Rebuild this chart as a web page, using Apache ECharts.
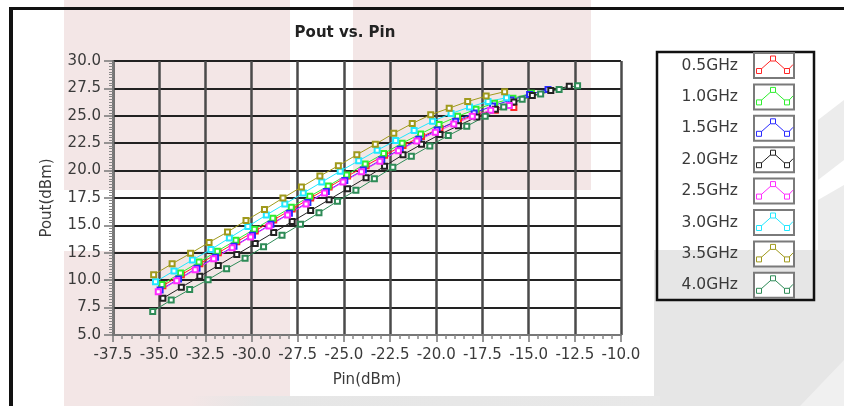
<!DOCTYPE html>
<html><head><meta charset="utf-8">
<script src="https://cdn.jsdelivr.net/npm/echarts@6/dist/echarts.min.js"></script>
<style>html,body{margin:0;padding:0;background:#fff}#c{width:844px;height:406px}</style>
</head><body><div id="c"></div>
<script>
const seriesNames = ['0.5GHz','1.0GHz','1.5GHz','2.0GHz','2.5GHz','3.0GHz','3.5GHz','4.0GHz'];
const seriesColors = ['#ff2626','#2fee2f','#2a2aff','#222222','#ff2cff','#22e8ff','#a09a1c','#2e8b57'];
const xTicks = [-37.5,-35,-32.5,-30,-27.5,-25,-22.5,-20,-17.5,-15,-12.5,-10];

const pin05 = [-34.8,-33.8,-32.8,-31.8,-30.8,-29.8,-28.8,-27.8,-26.8,-25.8,-24.8,-23.8,-22.8,-21.8,-20.8,-19.8,-18.8,-17.8,-16.8,-15.8];
const pout05 = [9.5,10.5,11.5,12.5,13.5,14.5,15.5,16.5,17.5,18.5,19.5,20.45,21.4,22.3,23.1,23.85,24.55,25.15,25.5,25.75];

const pin10 = [-34.85,-33.85,-32.85,-31.85,-30.85,-29.85,-28.85,-27.85,-26.85,-25.85,-24.85,-23.85,-22.85,-21.85,-20.85,-19.85,-18.85,-17.85,-16.85,-15.85,-14.85];
const pout10 = [9.6,10.65,11.65,12.65,13.65,14.65,15.65,16.65,17.65,18.6,19.6,20.6,21.55,22.5,23.35,24.2,24.95,25.6,26.15,26.6,27.05];

const pin15 = [-34.95,-33.95,-32.95,-31.95,-30.95,-29.95,-28.95,-27.95,-26.95,-25.95,-24.95,-23.95,-22.95,-21.95,-20.95,-19.95,-18.95,-17.95,-16.95,-15.95,-14.95,-13.95];
const pout15 = [9.1,10.1,11.1,12.1,13.1,14.1,15.1,16.1,17.1,18.1,19.1,20.05,21.0,21.95,22.85,23.7,24.5,25.25,25.9,26.45,26.95,27.4];

const pin20 = [-34.8,-33.8,-32.8,-31.8,-30.8,-29.8,-28.8,-27.8,-26.8,-25.8,-24.8,-23.8,-22.8,-21.8,-20.8,-19.8,-18.8,-17.8,-16.8,-15.8,-14.8,-13.8,-12.8];
const pout20 = [8.35,9.35,10.35,11.35,12.35,13.35,14.35,15.35,16.35,17.35,18.35,19.35,20.4,21.45,22.4,23.3,24.1,24.9,25.6,26.25,26.85,27.3,27.7];

const pin25 = [-35.05,-34.05,-33.05,-32.05,-31.05,-30.05,-29.05,-28.05,-27.05,-26.05,-25.05,-24.05,-23.05,-22.05,-21.05,-20.05,-19.05,-18.05,-17.05,-16.05];
const pout25 = [8.95,9.95,10.95,11.95,12.95,13.95,14.95,15.95,16.95,17.95,18.95,19.9,20.85,21.8,22.7,23.5,24.25,24.95,25.5,25.95];

const pin30 = [-35.2,-34.2,-33.2,-32.2,-31.2,-30.2,-29.2,-28.2,-27.2,-26.2,-25.2,-24.2,-23.2,-22.2,-21.2,-20.2,-19.2,-18.2,-17.2,-16.2];
const pout30 = [9.85,10.85,11.85,12.8,13.85,14.9,15.95,16.95,17.95,18.95,19.95,20.9,21.85,22.75,23.65,24.5,25.2,25.8,26.3,26.65];

const pin35 = [-35.3,-34.3,-33.3,-32.3,-31.3,-30.3,-29.3,-28.3,-27.3,-26.3,-25.3,-24.3,-23.3,-22.3,-21.3,-20.3,-19.3,-18.3,-17.3,-16.3];
const pout35 = [10.5,11.5,12.45,13.45,14.4,15.45,16.45,17.5,18.5,19.5,20.45,21.45,22.4,23.4,24.3,25.1,25.7,26.3,26.8,27.2];

const pin40 = [-35.35,-34.35,-33.35,-32.35,-31.35,-30.35,-29.35,-28.35,-27.35,-26.35,-25.35,-24.35,-23.35,-22.35,-21.35,-20.35,-19.35,-18.35,-17.35,-16.35,-15.35,-14.35,-13.35,-12.35];
const pout40 = [7.15,8.2,9.15,10.05,11.05,12.0,13.05,14.1,15.1,16.15,17.2,18.2,19.25,20.3,21.3,22.25,23.2,24.05,24.95,25.8,26.5,27.0,27.4,27.75];

const pins = [pin05,pin10,pin15,pin20,pin25,pin30,pin35,pin40];
const pouts = [pout05,pout10,pout15,pout20,pout25,pout30,pout35,pout40];

const FONT = 'DejaVu Sans';
const chart = echarts.init(document.getElementById('c'), null, {renderer:'canvas'});

const graphics = [];
// background decorations
const bg = (x,y,w,h,fill)=>graphics.push({type:'rect', z:-100, silent:true, shape:{x,y,width:w,height:h}, style:{fill}});
bg(64,0,226,190,'#f3e6e6');
bg(64,251,226,155,'#f3e6e6');
bg(353,0,238,190,'#f3e6e6');
bg(654,250,190,156,'#e6e6e6');
graphics.push({type:'rect', z:-100, silent:true, shape:{x:190,y:396,width:470,height:10},
  style:{fill:new echarts.graphic.LinearGradient(0,0,1,0,[{offset:0,color:'rgba(228,228,228,0)'},{offset:0.15,color:'#e6e6e6'},{offset:1,color:'#e8e8e8'}])}});
graphics.push({type:'polygon', z:-100, silent:true, shape:{points:[[818,120],[844,100],[844,160],[818,180]]}, style:{fill:'#ececec'}});
graphics.push({type:'polygon', z:-100, silent:true, shape:{points:[[818,200],[844,185],[844,250],[818,250]]}, style:{fill:'#ececec'}});
graphics.push({type:'polygon', z:-99, silent:true, shape:{points:[[800,406],[844,360],[844,406]]}, style:{fill:'#f0f0f0'}});
// frame
graphics.push({type:'rect', z:50, silent:true, shape:{x:9,y:7,width:835,height:3}, style:{fill:'#111'}});
graphics.push({type:'rect', z:50, silent:true, shape:{x:9,y:7,width:4,height:399}, style:{fill:'#111'}});
// legend box
graphics.push({type:'rect', z:50, silent:true, shape:{x:657,y:52,width:157,height:248}, style:{fill:null, stroke:'#111', lineWidth:2.5}});
seriesNames.forEach((name,i)=>{
  const cy = 65.5 + 31.4*i;
  const col = seriesColors[i];
  graphics.push({type:'text', z:50, silent:true, x:738, y:cy, style:{text:name, align:'right', verticalAlign:'middle', fontSize:15.5, fontFamily:FONT, fill:'#3a3a3a'}});
  graphics.push({type:'rect', z:50, silent:true, shape:{x:754,y:cy-12.5,width:40,height:25}, style:{fill:'#fff', stroke:'#7a7a7a', lineWidth:2}});
  const pts = [[759,cy+5.5],[773,cy-7],[787,cy+5.5],[793,cy-1]];
  graphics.push({type:'polyline', z:51, silent:true, shape:{points:pts}, style:{stroke:col, lineWidth:1, fill:null}});
  pts.slice(0,3).forEach(p=>graphics.push({type:'rect', z:52, silent:true, shape:{x:p[0]-2.5,y:p[1]-2.5,width:5,height:5}, style:{fill:'#fff', stroke:col, lineWidth:1}}));
});

const option = {
  animation:false,
  backgroundColor:'#fff',
  title:{text:'Pout vs. Pin', left:345, top:26, textAlign:'center', padding:0,
    textStyle:{fontSize:15, fontWeight:'bold', fontFamily:FONT, color:'#222'}},
  grid:{left:113, right:223, top:61, bottom:71, containLabel:false, outerBoundsMode:'none'},
  xAxis:{type:'value', min:-37.5, max:-10, interval:2.5,
    name:'Pin(dBm)', nameLocation:'middle', nameGap:38,
    nameTextStyle:{fontSize:15, fontFamily:FONT, color:'#3a3a3a'},
    axisLine:{show:true, lineStyle:{color:'#777', width:2}},
    axisTick:{show:true, length:7, lineStyle:{color:'#777', width:1.5}},
    minorTick:{show:true, splitNumber:5, length:4, lineStyle:{color:'#888', width:1.5}},
    axisLabel:{fontSize:15, fontFamily:FONT, color:'#3a3a3a', margin:13,
      formatter:v=>{const t = xTicks.find(k=>Math.abs(k-v)<1e-6); return (t===undefined?v:t).toFixed(1);}},
    splitLine:{show:true, lineStyle:{color:'#4a4a4a', width:2.5}}
  },
  yAxis:{type:'value', min:5, max:30, interval:2.5,
    name:'Pout(dBm)', nameLocation:'middle', nameGap:58,
    nameTextStyle:{fontSize:15, fontFamily:FONT, color:'#3a3a3a'},
    axisLine:{show:true, lineStyle:{color:'#777', width:2}},
    axisTick:{show:true, length:9, lineStyle:{color:'#777', width:1.5}},
    minorTick:{show:true, splitNumber:10, length:4, lineStyle:{color:'#888', width:1}},
    axisLabel:{fontSize:15, fontFamily:FONT, color:'#3a3a3a', margin:12, formatter:v=>v.toFixed(1)},
    splitLine:{show:true, lineStyle:{color:'#222', width:2}}
  },
  graphic:graphics,
  series: seriesNames.map((name,i)=>({
    name, type:'line', z:3,
    data: pins[i].map((p,j)=>[p, pouts[i][j]]),
    symbol:'emptyRect', symbolSize:5,
    itemStyle:{color:seriesColors[i], borderWidth:1},
    lineStyle:{color:seriesColors[i], width:1},
    emphasis:{disabled:true}
  }))
};
chart.setOption(option);
</script></body></html>
